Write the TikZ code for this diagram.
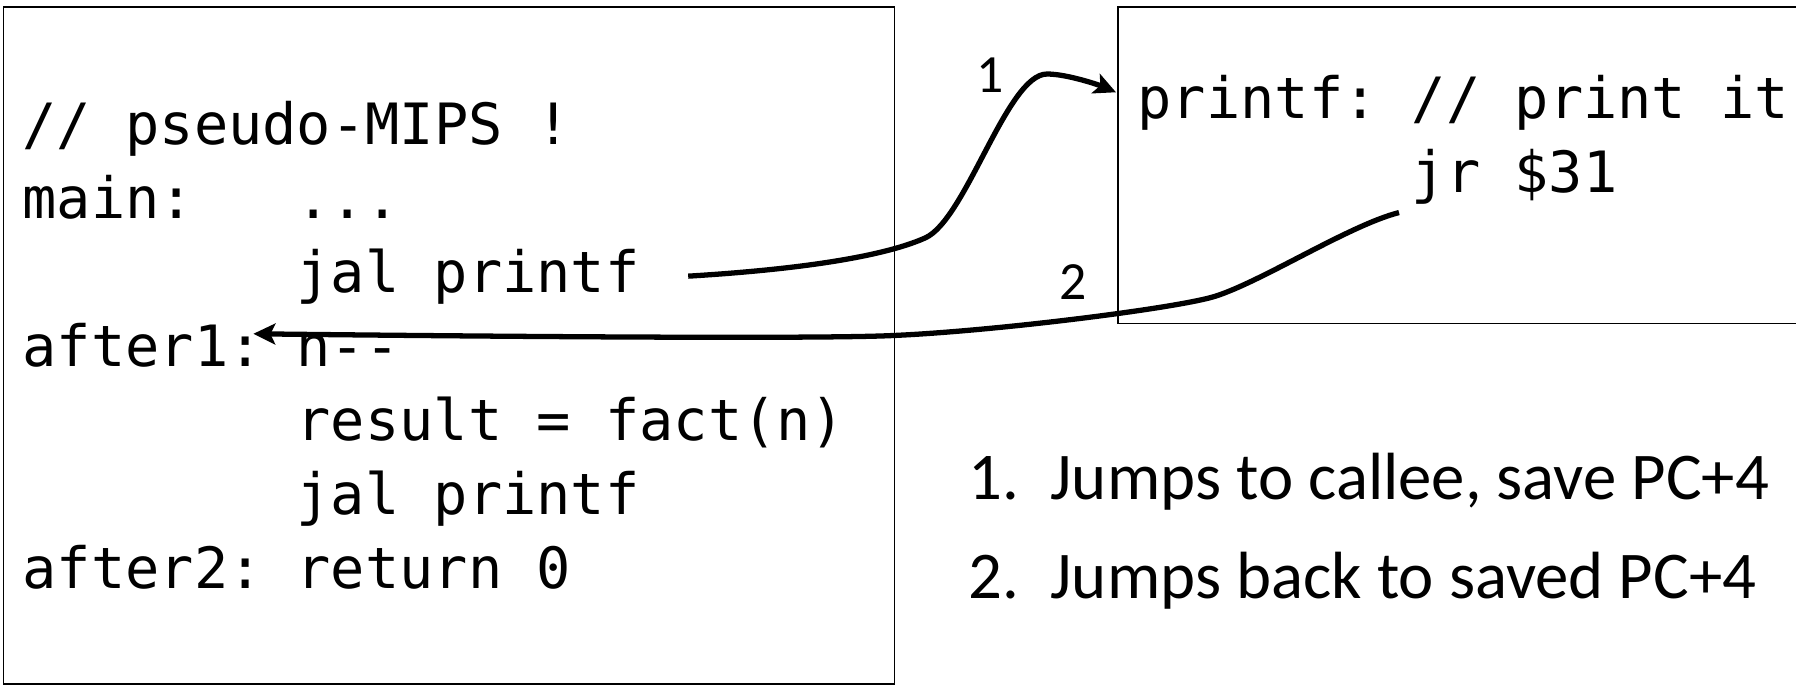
\documentclass[tikz,border=0pt]{standalone}
\usepackage{fontspec}
\setmainfont{Carlito}
\setmonofont{DejaVu Sans Mono}
\usetikzlibrary{arrows.meta}

\begin{document}
\begin{tikzpicture}[
  code/.style={font=\ttfamily\fontsize{16.2}{20}\selectfont,anchor=base west,inner sep=0pt},
  tag/.style={font=\fontsize{15.3}{18}\selectfont,anchor=base,inner sep=0pt},
  item/.style={font=\fontsize{19}{23}\selectfont,anchor=base west,inner sep=0pt},
  jump/.style={line width=1.5pt,-{Stealth[length=2.2mm,width=2.1mm,inset=0.5mm]}}]
  \useasboundingbox (0,0) rectangle (17.96,-6.86);
  \draw[line width=0.5pt] (0.034,-0.069) rectangle (8.945,-6.838);
  \draw[line width=0.5pt] (11.183,-0.069) rectangle (18.5,-3.235);

  % caller
  \node[code] (comment) at (0.22,-1.44) {// pseudo-MIPS !};
  \node[code] (main) at (0.22,-2.18) {main:};
  \node[code] (dots) at (2.96,-2.18) {...};
  \node[code] (call1) at (2.96,-2.92) {jal printf};
  \node[code] (after1) at (0.22,-3.66) {after1:};
  \node[code] (dec) at (2.96,-3.66) {n--};
  \node[code] (result) at (2.96,-4.40) {result = fact(n)};
  \node[code] (call2) at (2.96,-5.14) {jal printf};
  \node[code] (after2) at (0.22,-5.88) {after2:};
  \node[code] (ret) at (2.96,-5.88) {return 0};

  % callee
  \node[code] (printf) at (11.37,-1.18) {printf: // print it};
  \node[code] (jr) at (14.11,-1.92) {jr \$31};

  \node[tag] (one) at (9.905,-0.92) {1};
  \node[tag] (two) at (10.73,-2.99) {2};

  \node[item] (item1) at (9.68,-4.99) {\makebox[0.82cm][l]{1.}Jumps to callee, save PC+4};
  \node[item] (item2) at (9.68,-5.98) {\makebox[0.82cm][l]{2.}Jumps back to saved PC+4};

  % 1: call, 2: return
  \draw[jump] ([xshift=4.8mm]call1.east) .. controls (7.90,-2.70) and (8.80,-2.58) .. (9.25,-2.38)
    .. controls (9.66,-2.20) and (10.07,-0.74) .. (10.47,-0.74)
    .. controls (10.67,-0.74) and (10.99,-0.85) .. ([xshift=-2.1mm,yshift=1mm]printf.west);
  \draw[jump] ([xshift=-1.2mm,yshift=-0.8mm]jr.south west) .. controls (13.50,-2.25) and (12.635,-2.805) .. (12.16,-2.96)
    .. controls (11.78,-3.084) and (9.80,-3.33) .. (8.80,-3.36)
    .. controls (7.80,-3.39) and (4.50,-3.36) .. ([xshift=-1mm,yshift=1.1mm]after1.east);
\end{tikzpicture}
\end{document}
